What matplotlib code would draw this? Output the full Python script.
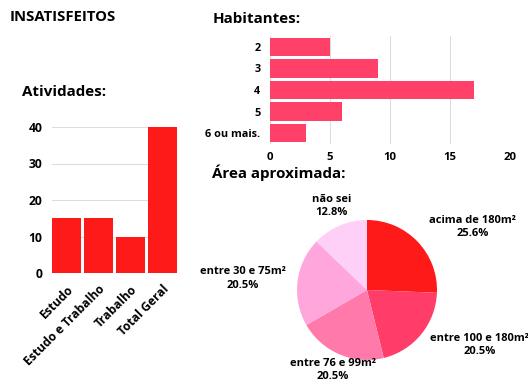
import matplotlib.pyplot as plt
import numpy as np

plt.rcParams['font.family'] = ['Open Sans', 'DejaVu Sans']
plt.rcParams['font.weight'] = 'bold'

# dados
atividades = ['Estudo', 'Estudo e Trabalho', 'Trabalho', 'Total Geral']
atividades_vals = [15, 15, 10, 40]

habitantes = ['2', '3', '4', '5', '6 ou mais.']
habitantes_vals = [5, 9, 17, 6, 3]

areas = ['acima de 180m²', 'entre 100 e 180m²', 'entre 76 e 99m²',
         'entre 30 e 75m²', 'não sei']
areas_pct = [25.6, 20.5, 20.5, 20.5, 12.8]

W, H = 528, 392
fig = plt.figure(figsize=(W / 100, H / 100), dpi=100)


def rect(x0, y0, x1, y1):
    # pixel box -> figure fraction
    return [x0 / W, 1 - y1 / H, (x1 - x0) / W, (y1 - y0) / H]


grid_c = '#dddddd'

fig.text(10 / W, 1 - 17 / H, 'INSATISFEITOS', fontsize=10.7, fontweight='bold',
         va='center', ha='left')
fig.text(22 / W, 1 - 92 / H, 'Atividades:', fontsize=10.9, fontweight='bold',
         va='center', ha='left')
fig.text(213 / W, 1 - 19 / H, 'Habitantes:', fontsize=10.9, fontweight='bold',
         va='center', ha='left')
fig.text(212 / W, 1 - 173 / H, 'Área aproximada:', fontsize=10.9, fontweight='bold',
         va='center', ha='left')

# Atividades
ax1 = fig.add_axes(rect(52, 127, 177, 273))
x = np.arange(len(atividades))
ax1.bar(x, atividades_vals, width=0.9, color='#ff1a1a', zorder=3)
ax1.set_xlim(-0.45, len(atividades) - 0.55)
ax1.set_ylim(0, 40)
ax1.set_yticks([0, 10, 20, 30, 40])
ax1.yaxis.grid(True, color=grid_c, lw=0.8, zorder=0)
ax1.set_xticks(x)
ax1.set_xticklabels(atividades, rotation=45, ha='right', rotation_mode='anchor')
for s in ax1.spines.values():
    s.set_visible(False)
ax1.tick_params(length=0, labelsize=8.7, pad=7)

# Habitantes
ax2 = fig.add_axes(rect(270, 36, 510, 144))
y = np.arange(len(habitantes))
ax2.barh(y, habitantes_vals, height=0.85, color='#ff4069', zorder=3)
ax2.set_ylim(len(habitantes) - 0.5, -0.5)
ax2.set_xlim(0, 20)
ax2.set_xticks([0, 5, 10, 15, 20])
ax2.set_yticks(y)
ax2.set_yticklabels(habitantes)
ax2.xaxis.grid(True, color=grid_c, lw=0.8, zorder=0)
for s in ax2.spines.values():
    s.set_visible(False)
ax2.tick_params(axis='y', length=0, labelsize=7.8, pad=7)
ax2.tick_params(axis='x', length=0, labelsize=8.2, pad=6)

# Área aproximada
ax3 = fig.add_axes(rect(212, 180, 522, 392))
cores = ['#ff1a1a', '#ff3d68', '#ff7aaa', '#ffa6dc', '#ffd0f7']
wedges, _ = ax3.pie(areas_pct, colors=cores, startangle=90, counterclock=False,
                    radius=1)
r = 70.0
ax3.set_xlim(-155 / r, 155 / r)
ax3.set_ylim(-102 / r, 110 / r)
ax3.set_aspect('auto')

lab_dist = [1.76, 1.79, 1.24, 1.78, 1.30]
lab_ang_shift = [-13, 13, 0, 1.7, 0]
for w, nome, p, d, da in zip(wedges, areas, areas_pct, lab_dist, lab_ang_shift):
    ang = np.deg2rad((w.theta1 + w.theta2) / 2 + da)
    ax3.text(d * np.cos(ang), d * np.sin(ang), f'{nome}\n{p}%', ha='center',
             va='center', fontsize=8, fontweight='bold', linespacing=1.3)

fig.savefig('out.png', dpi=100)
